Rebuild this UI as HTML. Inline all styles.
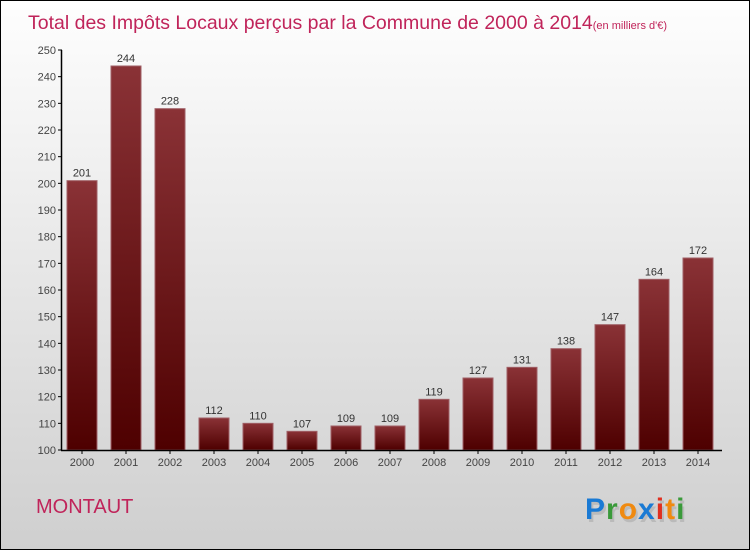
<!DOCTYPE html>
<html><head><meta charset="utf-8"><style>
html,body{margin:0;padding:0}
body{width:750px;height:550px;overflow:hidden;font-family:"Liberation Sans",sans-serif}
#wrap{position:relative;width:748px;height:548px;border:1px solid #000;background:linear-gradient(#fefefe,#cfcfcf)}
</style></head><body>
<div id="wrap">
<svg id="chart" width="748" height="548">
<defs><linearGradient id="bg" x1="0" y1="0" x2="0" y2="1"><stop offset="0" stop-color="#8a3236"/><stop offset="1" stop-color="#4e0000"/></linearGradient></defs>
<text x="27" y="28" font-size="19.5" fill="#c0245a" font-weight="normal">Total des Impôts Locaux perçus par la Commune de 2000 à 2014<tspan font-size="11">(en milliers d'€)</tspan></text>
<text x="35" y="512" font-size="20" fill="#c0245a">MONTAUT</text>
<g font-size="30" font-weight="bold">
<text x="584" y="518" letter-spacing="1" fill="#999" opacity="0.4" transform="translate(2,3)">Proxiti</text>
<text x="584" y="518" letter-spacing="1"><tspan fill="#1a7ad4">P</tspan><tspan fill="#3a9a3a">r</tspan><tspan fill="#f08a10">o</tspan><tspan fill="#1a7ad4">x</tspan><tspan fill="#e03020">i</tspan><tspan fill="#f08a10">t</tspan><tspan fill="#3a9a3a">i</tspan></text>
</g>
</svg>
</div>
<script>
const years=["2000","2001","2002","2003","2004","2005","2006","2007","2008","2009","2010","2011","2012","2013","2014"];
const values=[201,244,228,112,110,107,109,109,119,127,131,138,147,164,172];
const ticks=[100,110,120,130,140,150,160,170,180,190,200,210,220,230,240,250];
const svg=document.getElementById('chart');
const NS='http://www.w3.org/2000/svg';
const y0=449,ymin=100,ymax=250,ytop=49;
const yS=v=>y0-(v-ymin)/(ymax-ymin)*(y0-ytop);
const xS=i=>81+i*44;
function mk(t,a){const e=document.createElementNS(NS,t);for(const k in a)e.setAttribute(k,a[k]);svg.appendChild(e);return e;}
ticks.forEach(t=>{
 const l=mk('line',{x1:57,x2:61,y1:yS(t),y2:yS(t),stroke:'#000'});
 
 
 const tx=mk('text',{x:55,y:yS(t)+4,'text-anchor':'end','font-size':11,fill:'#444'});
 tx.textContent=t;
 
 
});
values.forEach((v,i)=>{
 const r=mk('rect',{x:xS(i)-15,y:yS(v),width:30,height:y0-yS(v),fill:'url(#bg)',stroke:'#a06066','stroke-width':1});
 
 
 const t=mk('text',{x:xS(i),y:yS(v)-4,'text-anchor':'middle','font-size':11,fill:'#333'});
 t.textContent=v;
 
 
 const tk=mk('line',{x1:xS(i),x2:xS(i),y1:y0,y2:y0+4,stroke:'#000'});
 
 
 const xl=mk('text',{x:xS(i),y:y0+16,'text-anchor':'middle','font-size':11,fill:'#444'});
 xl.textContent=years[i];
 
 
});
const ya=mk('line',{x1:60.5,x2:60.5,y1:ytop,y2:y0,stroke:'#000','stroke-width':1.5});


const xa=mk('line',{x1:60,x2:721,y1:y0+0.5,y2:y0+0.5,stroke:'#000','stroke-width':1.5});


</script>
</body></html>
